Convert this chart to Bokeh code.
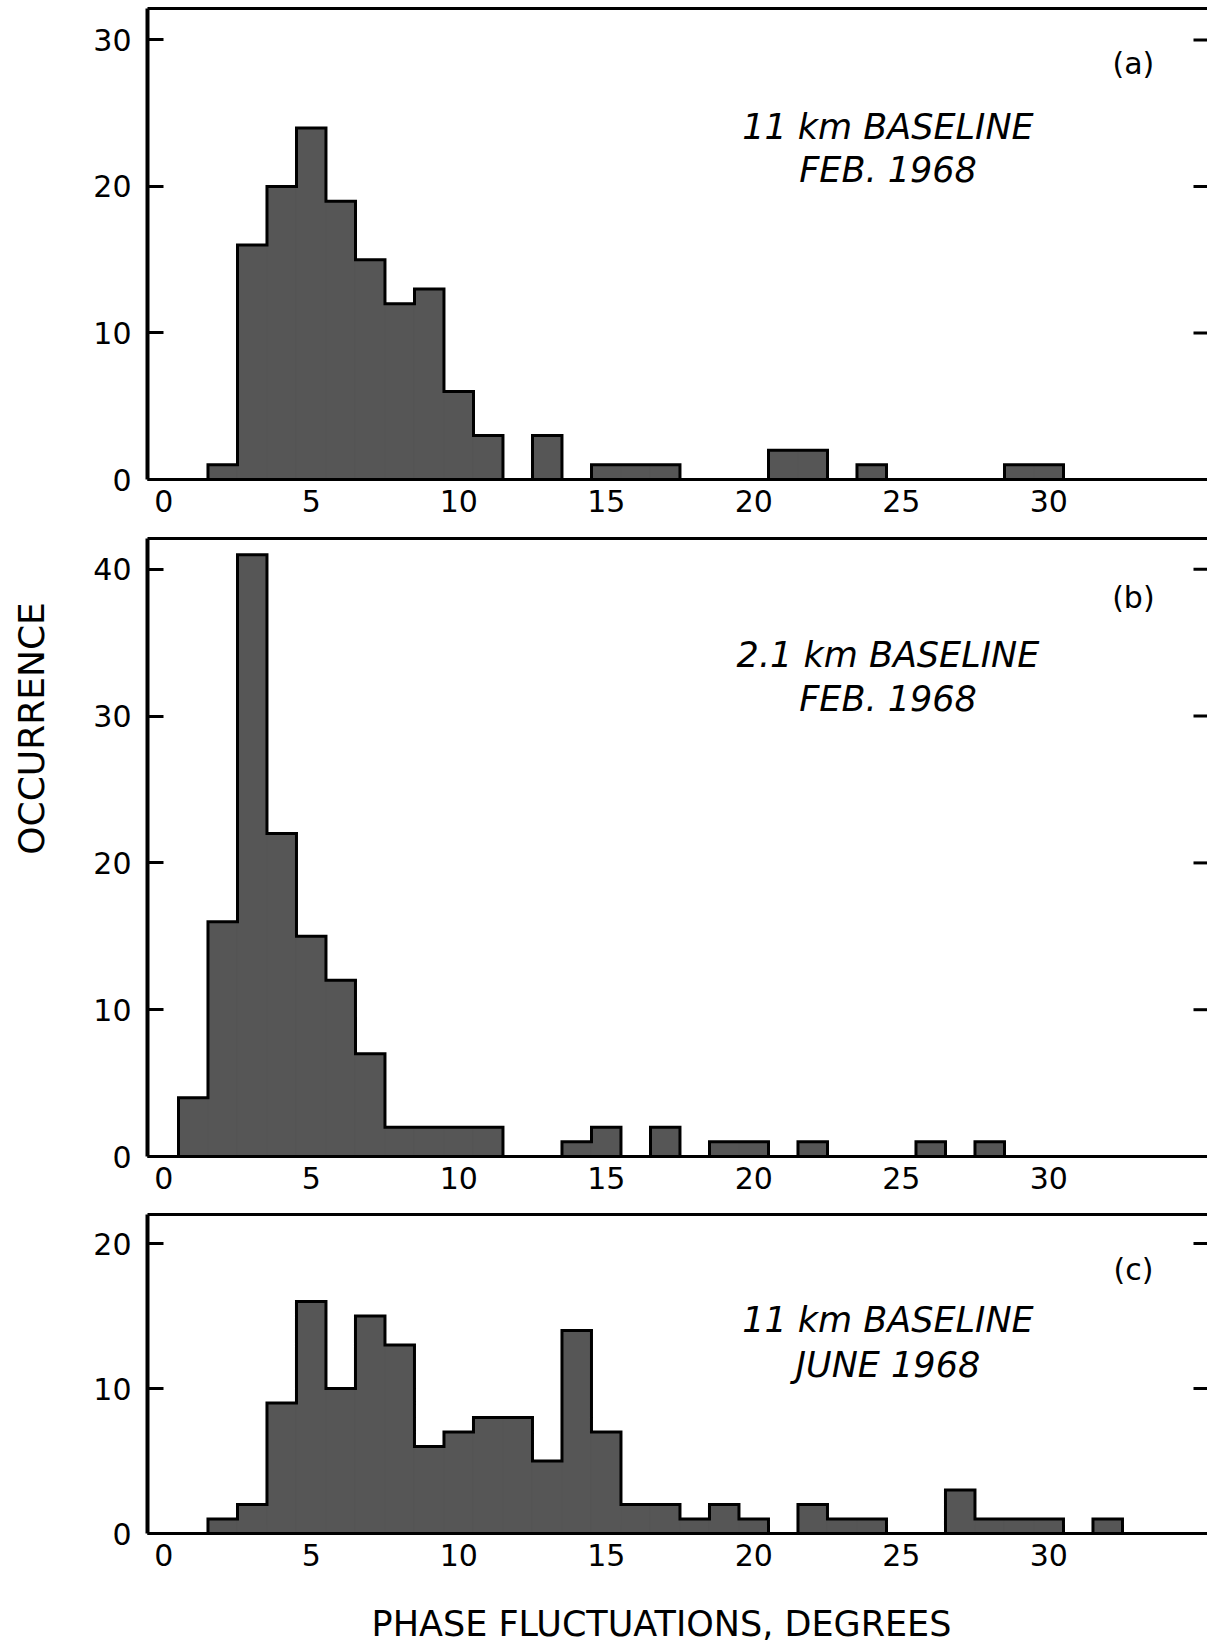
import math
from bokeh.plotting import figure
from bokeh.models import LinearAxis, Range1d, FixedTicker, Label, ColumnDataSource
from bokeh.layouts import column, row
from bokeh.embed import file_html
from bokeh.resources import INLINE

# ---------------- data ----------------
x_ticks = [0, 5, 10, 15, 20, 25, 30]

a_bins = [2, 3, 4, 5, 6, 7, 8, 9, 10, 11, 13, 15, 16, 17, 21, 22, 24, 29, 30]
a_counts = [1, 16, 20, 24, 19, 15, 12, 13, 6, 3, 3, 1, 1, 1, 2, 2, 1, 1, 1]
a_yticks = [0, 10, 20, 30]

b_bins = [1, 2, 3, 4, 5, 6, 7, 8, 9, 10, 11, 14, 15, 17, 19, 20, 22, 26, 28]
b_counts = [4, 16, 41, 22, 15, 12, 7, 2, 2, 2, 2, 1, 2, 2, 1, 1, 1, 1, 1]
b_yticks = [0, 10, 20, 30, 40]

c_bins = [2, 3, 4, 5, 6, 7, 8, 9, 10, 11, 12, 13, 14, 15, 16, 17, 18, 19, 20,
          22, 23, 24, 27, 28, 29, 30, 32]
c_counts = [1, 2, 9, 16, 10, 15, 13, 6, 7, 8, 8, 5, 14, 7, 2, 2, 1, 2, 1,
            2, 1, 1, 3, 1, 1, 1, 1]
c_yticks = [0, 10, 20]

a_text = ["11 km BASELINE", "FEB. 1968"]
b_text = ["2.1 km BASELINE", "FEB. 1968"]
c_text = ["11 km BASELINE", "JUNE 1968"]
panel_tags = ["(a)", "(b)", "(c)"]
y_title = "OCCURRENCE"
x_title = "PHASE FLUCTUATIONS, DEGREES"

# ---------------- styling / layout ----------------
FONT = "DejaVu Sans"
BAR_FILL = "#565656"
PX_PER_UNIT = 29.5
XMIN = -0.55
FRAME_W = 1060
XMAX = XMIN + FRAME_W / PX_PER_UNIT
LEFT_W = 58          # narrow strip holding the y title
BORDER_L = 147 - LEFT_W
TOTAL_H = 1646


def make_panel(bins, counts, yticks, ymax, frame_h, top_b, bottom_b, texts,
               text_y, tag, tag_y):
    p = figure(frame_width=FRAME_W, frame_height=frame_h,
               x_range=Range1d(XMIN, XMAX), y_range=Range1d(0, ymax),
               output_backend="svg", toolbar_location=None,
               min_border_left=BORDER_L, min_border_right=0,
               min_border_top=top_b, min_border_bottom=bottom_b)
    p.outline_line_color = None
    p.grid.visible = False

    # bars
    src = ColumnDataSource(dict(left=[b - 0.5 for b in bins],
                                right=[b + 0.5 for b in bins],
                                top=counts, bottom=[0] * len(bins)))
    p.quad(left="left", right="right", top="top", bottom="bottom", source=src,
           fill_color=BAR_FILL, line_color=BAR_FILL, line_width=1)

    # histogram outline (union of the bars)
    h = {b: c for b, c in zip(bins, counts)}
    xs, ys = [], []
    for k in range(0, max(bins) + 2):
        xs += [k - 0.5, k + 0.5]
        ys += [h.get(k, 0), h.get(k, 0)]
    p.line(xs, ys, line_color="black", line_width=3, line_join="miter")

    # inward ticks on the (cut-off) right edge
    rt = [t for t in yticks if t > 0]
    p.segment(x0=[XMAX - 14 / PX_PER_UNIT] * len(rt), x1=[XMAX] * len(rt),
              y0=rt, y1=rt, line_color="black", line_width=3)

    # left axis
    ya = p.yaxis[0]
    ya.ticker = FixedTicker(ticks=yticks)
    ya.major_tick_in = 16
    ya.major_tick_out = 0
    ya.minor_tick_in = 0
    ya.minor_tick_out = 0
    ya.major_tick_line_width = 3
    ya.axis_line_width = 4
    ya.major_label_standoff = 16
    ya.major_label_text_font = FONT
    ya.major_label_text_font_size = "30px"
    ya.major_label_text_color = "black"

    # bottom axis
    xa = p.xaxis[0]
    xa.ticker = FixedTicker(ticks=x_ticks)
    xa.major_tick_in = 0
    xa.major_tick_out = 0
    xa.minor_tick_in = 0
    xa.minor_tick_out = 0
    xa.major_tick_line_color = None
    xa.axis_line_width = 3
    xa.major_label_standoff = 10
    xa.major_label_text_font = FONT
    xa.major_label_text_font_size = "30px"
    xa.major_label_text_color = "black"

    # top frame line
    top = LinearAxis(ticker=FixedTicker(ticks=[]), major_tick_in=0,
                     major_tick_out=0, minor_tick_in=0, minor_tick_out=0,
                     major_label_standoff=0, axis_line_width=3)
    p.add_layout(top, "above")

    # annotation texts
    for t, ty in zip(texts, text_y):
        p.add_layout(Label(x=24.55, y=ty, text=t, text_font=FONT,
                           text_font_style="italic", text_font_size="35px",
                           text_align="center", text_baseline="middle",
                           text_color="black"))
    p.add_layout(Label(x=32.87, y=tag_y, text=tag, text_font=FONT,
                       text_font_size="30px", text_align="center",
                       text_baseline="middle", text_color="black"))
    return p


pa = make_panel(a_bins, a_counts, a_yticks, 32.15, 471, 8, 48,
                a_text, [24.05, 21.1], panel_tags[0], 28.4)
pb = make_panel(b_bins, b_counts, b_yticks, 42.1, 618, 11, 48,
                b_text, [34.19, 31.2], panel_tags[1], 38.08)
pc = make_panel(c_bins, c_counts, c_yticks, 22.0, 319, 10, 48,
                c_text, [14.69, 11.59], panel_tags[2], 18.2)

# strip below the bottom panel for the x title
TOP_OF_BOT = 8 + 471 + 48 + 11 + 618 + 48 + 10 + 319 + 48
BOT_H = TOTAL_H - TOP_OF_BOT
pbot = figure(frame_width=FRAME_W, frame_height=BOT_H,
              x_range=Range1d(0, FRAME_W), y_range=Range1d(0, BOT_H),
              output_backend="svg", toolbar_location=None,
              x_axis_location=None, y_axis_location=None,
              min_border_left=BORDER_L, min_border_right=0,
              min_border_top=0, min_border_bottom=0)
pbot.outline_line_color = None
pbot.grid.visible = False
pbot.add_layout(Label(x=661 - 147, y=BOT_H - (1623 - TOP_OF_BOT),
                      text=x_title, text_font=FONT, text_font_size="35px",
                      text_align="center", text_baseline="middle",
                      text_color="black"))

# strip on the left for the y title
pleft = figure(frame_width=LEFT_W, frame_height=TOTAL_H,
               x_range=Range1d(0, LEFT_W), y_range=Range1d(0, TOTAL_H),
               output_backend="svg", toolbar_location=None,
               x_axis_location=None, y_axis_location=None,
               min_border=0)
pleft.outline_line_color = None
pleft.grid.visible = False
pleft.add_layout(Label(x=31, y=TOTAL_H - 728, text=y_title,
                       angle=math.pi / 2, text_font=FONT,
                       text_font_size="36px", text_align="center",
                       text_baseline="middle", text_color="black"))

layout = row(pleft, column(pa, pb, pc, pbot, spacing=0), spacing=0)
open("out.html", "w").write(file_html(layout, INLINE))
